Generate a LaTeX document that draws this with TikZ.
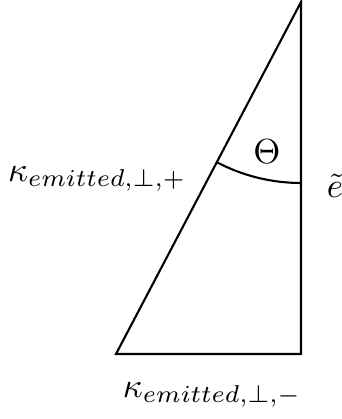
\documentclass[tikz,border=0pt]{standalone}
\begin{document}
\begin{tikzpicture}[x=0.33333pt,y=0.33333pt,
  edge/.style={line width=0.7pt},
  lbl/.style={inner sep=0pt, scale=1.16}]
\useasboundingbox (0,0) rectangle (342,419);
\coordinate (T) at (301,417);
\coordinate (BL) at (116,65);
\coordinate (BR) at (301,65);
\coordinate (A) at (301,236);
\draw[edge, line join=miter] (T) -- (BL) -- (BR) -- cycle;
\draw[edge] (A) arc[start angle=270, end angle=242.3, radius=60.33pt];
\node[lbl] (theta) at (267,267) {$\Theta$};
\node[lbl] (e) at (335,233) {$\tilde{e}$};
\node[lbl] (kp) at (97,240) {$\kappa_{emitted,\perp,+}$};
\node[lbl] (km) at (212,24) {$\kappa_{emitted,\perp,-}$};
\end{tikzpicture}
\end{document}
